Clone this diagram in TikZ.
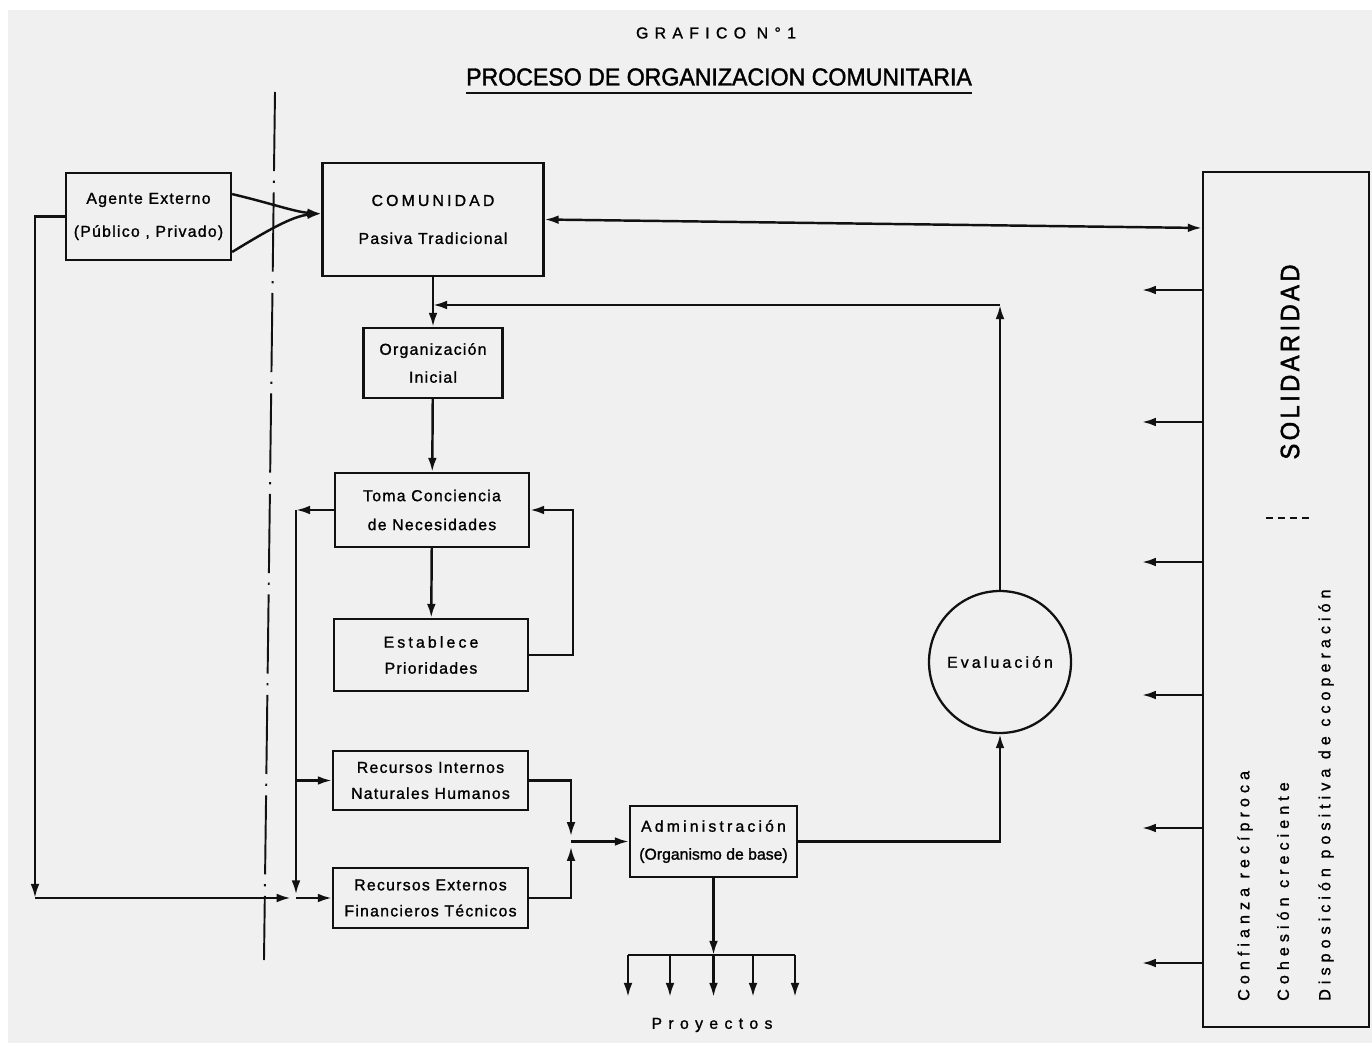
\documentclass[tikz,border=0pt]{standalone}
\usepackage{fontspec}
\usepackage{tikz}
\usetikzlibrary{arrows.meta}

\newfontfamily\lblfont{Liberation Sans}[LetterSpace=8,FakeBold=1.2]
\newfontfamily\plainfont{Liberation Sans}[FakeBold=1.2]
\newfontfamily\midfont{Liberation Sans}[LetterSpace=20,FakeBold=1.2]
\newfontfamily\widefont{Liberation Sans}[LetterSpace=40,FakeBold=1.2]
\newfontfamily\rotfont{Liberation Sans}[LetterSpace=31,FakeBold=1.2]
\newfontfamily\titlefont{Liberation Sans}[FakeStretch=0.94,FakeBold=1.5]
\newfontfamily\solfont{Liberation Sans}[FakeStretch=0.9,LetterSpace=13,FakeBold=1.8]

\definecolor{paper}{HTML}{F0F0F0}
\definecolor{ink}{HTML}{111111}

\begin{document}
\begin{tikzpicture}[x=0.02cm, y=-0.02cm, >={Latex[length=8pt,width=5pt]},
        box/.style={draw=ink, line width=1.3pt, align=center, inner sep=0pt,
            font=\lblfont\fontsize{9}{10.8}\selectfont},
        arr/.style={draw=ink, line width=1.4pt, ->},
        link/.style={draw=ink, line width=1.4pt},
        sidetext/.style={font=\rotfont\fontsize{9.2}{10}\selectfont, rotate=90, anchor=west}]
    \fill[paper] (8,10) rectangle (1372,1043);
    \useasboundingbox (0,0) rectangle (1372,1043);

    \node[font=\widefont\fontsize{9}{10}\selectfont] (grafico) at (716,33) {GRAFICO N°1};
    \node[font=\titlefont\fontsize{14}{15}\selectfont, inner sep=0pt] (titulo) at (719,77) {PROCESO DE ORGANIZACION COMUNITARIA};
    \draw[link, line width=1.5pt] ([yshift=-4pt]titulo.south west) -- ([yshift=-4pt]titulo.south east);

    \draw[ink, line width=1.1pt, dash pattern=on 45pt off 5.5pt on 1.2pt off 5.5pt] (275,92) -- (264,960);

    \node[box, minimum width=3.3cm, minimum height=1.74cm] (agente) at (148.5,216.5) {Agente Externo\\[8pt](Público , Privado)};
    \node[box, minimum width=4.42cm, minimum height=2.26cm] (comunidad) at (433,219.5) {{\midfont COMUNIDAD}\\[10.8pt]Pasiva Tradicional};
    \node[box, minimum width=2.78cm, minimum height=1.4cm] (orginicial) at (433,363) {Organización\\[5.1pt]Inicial};
    \node[box, minimum width=3.88cm, minimum height=1.48cm] (toma) at (432,510) {Toma Conciencia\\[5.7pt]de Necesidades};
    \node[box, minimum width=3.88cm, minimum height=1.44cm] (establece) at (431,655) {{\midfont Establece}\\[4pt]Prioridades};
    \node[box, minimum width=3.9cm, minimum height=1.18cm] (recint) at (430.5,780.5) {Recursos Internos\\[4pt]Naturales Humanos};
    \node[box, minimum width=3.9cm, minimum height=1.2cm] (recext) at (430.5,898) {Recursos Externos\\[4pt]Financieros Técnicos};
    \node[box, minimum width=3.34cm, minimum height=1.42cm] (admin) at (713.5,841.5) {{\midfont Administración}\\[5.1pt]{\plainfont (Organismo de base)}};
    \node[box, circle, minimum size=2.84cm, font=\midfont\fontsize{9}{10}\selectfont] (eval) at (1000,662) {Evaluación};
    \node[box, minimum width=3.32cm, minimum height=17.1cm] (solid) at (1286,599.5) {};

    \node[font=\solfont\fontsize{15}{16}\selectfont, rotate=90] (soltxt) at (1290,362) {SOLIDARIDAD};
    \draw[ink, line width=1pt, dash pattern=on 4pt off 2.8pt] (1266,518) -- (1311,518);
    \node[sidetext] (confianza) at (1245,1007) {Confianza recíproca};
    \node[sidetext] (cohesion) at (1283,1007) {Cohesión creciente};
    \node[sidetext] (disposicion) at (1326,1007) {Disposición positiva de ccoperación};

    \draw[arr] (agente.15) .. controls (270,203) and (295,212) .. (comunidad.177);
    \draw[arr] (agente.-23) .. controls (265,232) and (292,216) .. (comunidad.177);
    \coordinate (solin) at (1203,228);
    \draw[arr, <->] (comunidad.east) -- (solid.west |- solin);

    \draw[arr] (comunidad) -- (orginicial);
    \draw[arr] (orginicial) -- (toma);
    \draw[arr] (toma) -- (establece);
    \coordinate (loopR) at (573,655);
    \draw[arr] (establece.east) -- (loopR) |- (toma.east);

    \coordinate (busL) at (296,510);
    \coordinate (joinE) at (296,898);
    \coordinate (cornerL) at (35,898);
    \draw[arr] (toma.west) -- (busL);
    \draw[arr, shorten >=2pt] (busL) -- (joinE);
    \draw[arr] (agente.west) -| (cornerL);
    \draw[arr, shorten >=3pt] (cornerL) -- (joinE);
    \draw[arr] (busL |- recint.west) -- (recint.west);
    \draw[arr] (joinE) -- (recext.west);

    \coordinate (joinA) at (571,841.5);
    \draw[arr, shorten >=3pt] (recint.east) -| (joinA);
    \draw[arr, shorten >=3pt] (recext.east) -| (joinA);
    \draw[arr] (joinA) -- (admin.west);

    \draw[arr] (admin.east) -| (eval.south);
    \coordinate (cornerE) at (1000,305);
    \coordinate (joinC) at (433,305);
    \draw[arr] (eval.north) -- (cornerE);
    \draw[arr] (cornerE) -- (joinC);

    \coordinate (bus) at (713.5,955);
    \draw[arr] (admin.south) -- (bus);
    \draw[link] (628,955) -- (795,955);
    \foreach \x in {628,670,713.5,753,795}
        \draw[arr] (\x,955) -- (\x,997);
    \node[font=\widefont\fontsize{9}{10}\selectfont] (proyectos) at (712,1025) {Proyectos};

    \foreach \y in {290,422,562,695,828,963} {
        \coordinate (outy) at (0,\y);
        \draw[arr] (solid.west |- outy) -- +(-60,0);
    }
\end{tikzpicture}
\end{document}
